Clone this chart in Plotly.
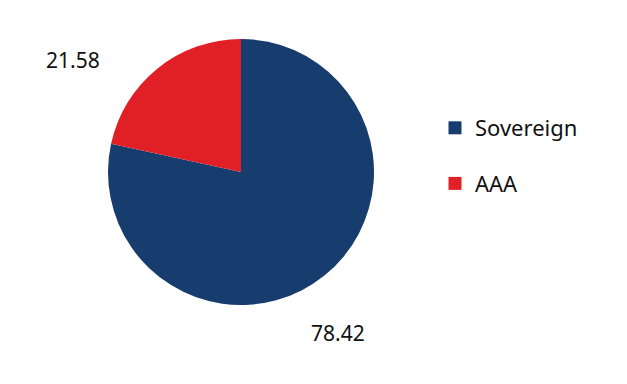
import plotly.graph_objects as go

categories = ["Sovereign", "AAA"]
values = [78.42, 21.58]
colors = ["#173d6f", "#e11f26"]

W, H = 627, 384
cx, cy, r = 241, 172, 133

fig = go.Figure()
fig.add_trace(go.Pie(
    labels=categories, values=values, sort=False, direction="clockwise", rotation=0,
    marker=dict(colors=colors, line=dict(width=0)),
    textinfo="none", hoverinfo="label+value", showlegend=False,
    domain=dict(x=[(cx - r) / W, (cx + r) / W], y=[(H - cy - r) / H, (H - cy + r) / H]),
))

# legend entries as square markers
for i, (c, col) in enumerate(zip(categories, colors)):
    fig.add_trace(go.Scatter(
        x=[None], y=[None], mode="markers", name=c, legendgroup=c,
        marker=dict(symbol="square", size=13, color=col, line=dict(width=0)),
    ))

# value labels
label_pos = {"Sovereign": (338, 333), "AAA": (73, 60)}
for c, v in zip(categories, values):
    px, py = label_pos[c]
    fig.add_annotation(x=px / W, y=(H - py) / H, xref="paper", yref="paper",
                       text=f"{v:.2f}", showarrow=False, xanchor="center", yanchor="middle",
                       font=dict(size=21, color="#111111"))

fig.update_layout(
    width=W, height=H, margin=dict(l=0, r=0, t=0, b=0),
    paper_bgcolor="white", plot_bgcolor="white",
    font=dict(family="Noto Sans", size=21, color="#111111"),
    xaxis=dict(visible=False), yaxis=dict(visible=False),
    legend=dict(x=435 / W, y=(H - 107) / H, xanchor="left", yanchor="top",
                tracegroupgap=24, itemsizing="trace", bgcolor="rgba(0,0,0,0)",
                font=dict(size=22)),
)

fig.write_html("out.html")
